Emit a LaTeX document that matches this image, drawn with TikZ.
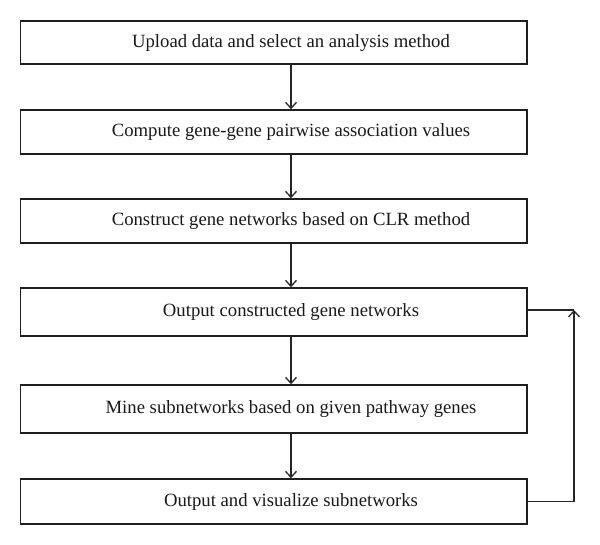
\documentclass[tikz,border=0pt]{standalone}
\usepackage{fontspec}
\setmainfont{Liberation Serif}
\usetikzlibrary{arrows.meta}
\begin{document}
\begin{tikzpicture}[x=1pt,y=-1pt,
  stepbox/.style={draw=black!88,line width=1.5pt,minimum width=506.5pt,inner sep=0pt},
  lbl/.style={font=\fontsize{18.7}{20}\selectfont,inner sep=0pt,text=black!90},
  conn/.style={draw=black!85,line width=1.3pt},
  arr/.style={conn,-{Straight Barb[length=6pt,width=11pt,line width=1.3pt]}}]
\useasboundingbox (0,0) rectangle (600,545);
\node[stepbox,minimum height=43pt] (b1) at (273.75,42.5) {};
\node[stepbox,minimum height=44pt] (b2) at (273.75,132) {};
\node[stepbox,minimum height=44pt] (b3) at (273.75,221) {};
\node[stepbox,minimum height=48pt] (b4) at (273.75,312) {};
\node[stepbox,minimum height=48pt] (b5) at (273.75,409) {};
\node[stepbox,minimum height=45pt] (b6) at (273.75,501.5) {};
\node[lbl] (t1) at (291,43) {Upload data and select an analysis method};
\node[lbl] (t2) at (291,132.5) {Compute gene-gene pairwise association values};
\node[lbl] (t3) at (291,221.5) {Construct gene networks based on CLR method};
\node[lbl] (t4) at (291,312.5) {Output constructed gene networks};
\node[lbl] (t5) at (291,409.5) {Mine subnetworks based on given pathway genes};
\node[lbl] (t6) at (291,502) {Output and visualize subnetworks};
\draw[arr] (b1.south -| t1) -- (b2.north -| t1);
\draw[arr] (b2.south -| t1) -- (b3.north -| t1);
\draw[arr] (b3.south -| t1) -- (b4.north -| t1);
\draw[arr] (b4.south -| t1) -- (b5.north -| t1);
\draw[arr] (b5.south -| t1) -- (b6.north -| t1);
\coordinate (fb) at (574,310);
\draw[conn] (b4.east |- fb) -- (fb);
\draw[arr] (b6.east) -- (b6.east -| fb) -- (fb);
\end{tikzpicture}
\end{document}
